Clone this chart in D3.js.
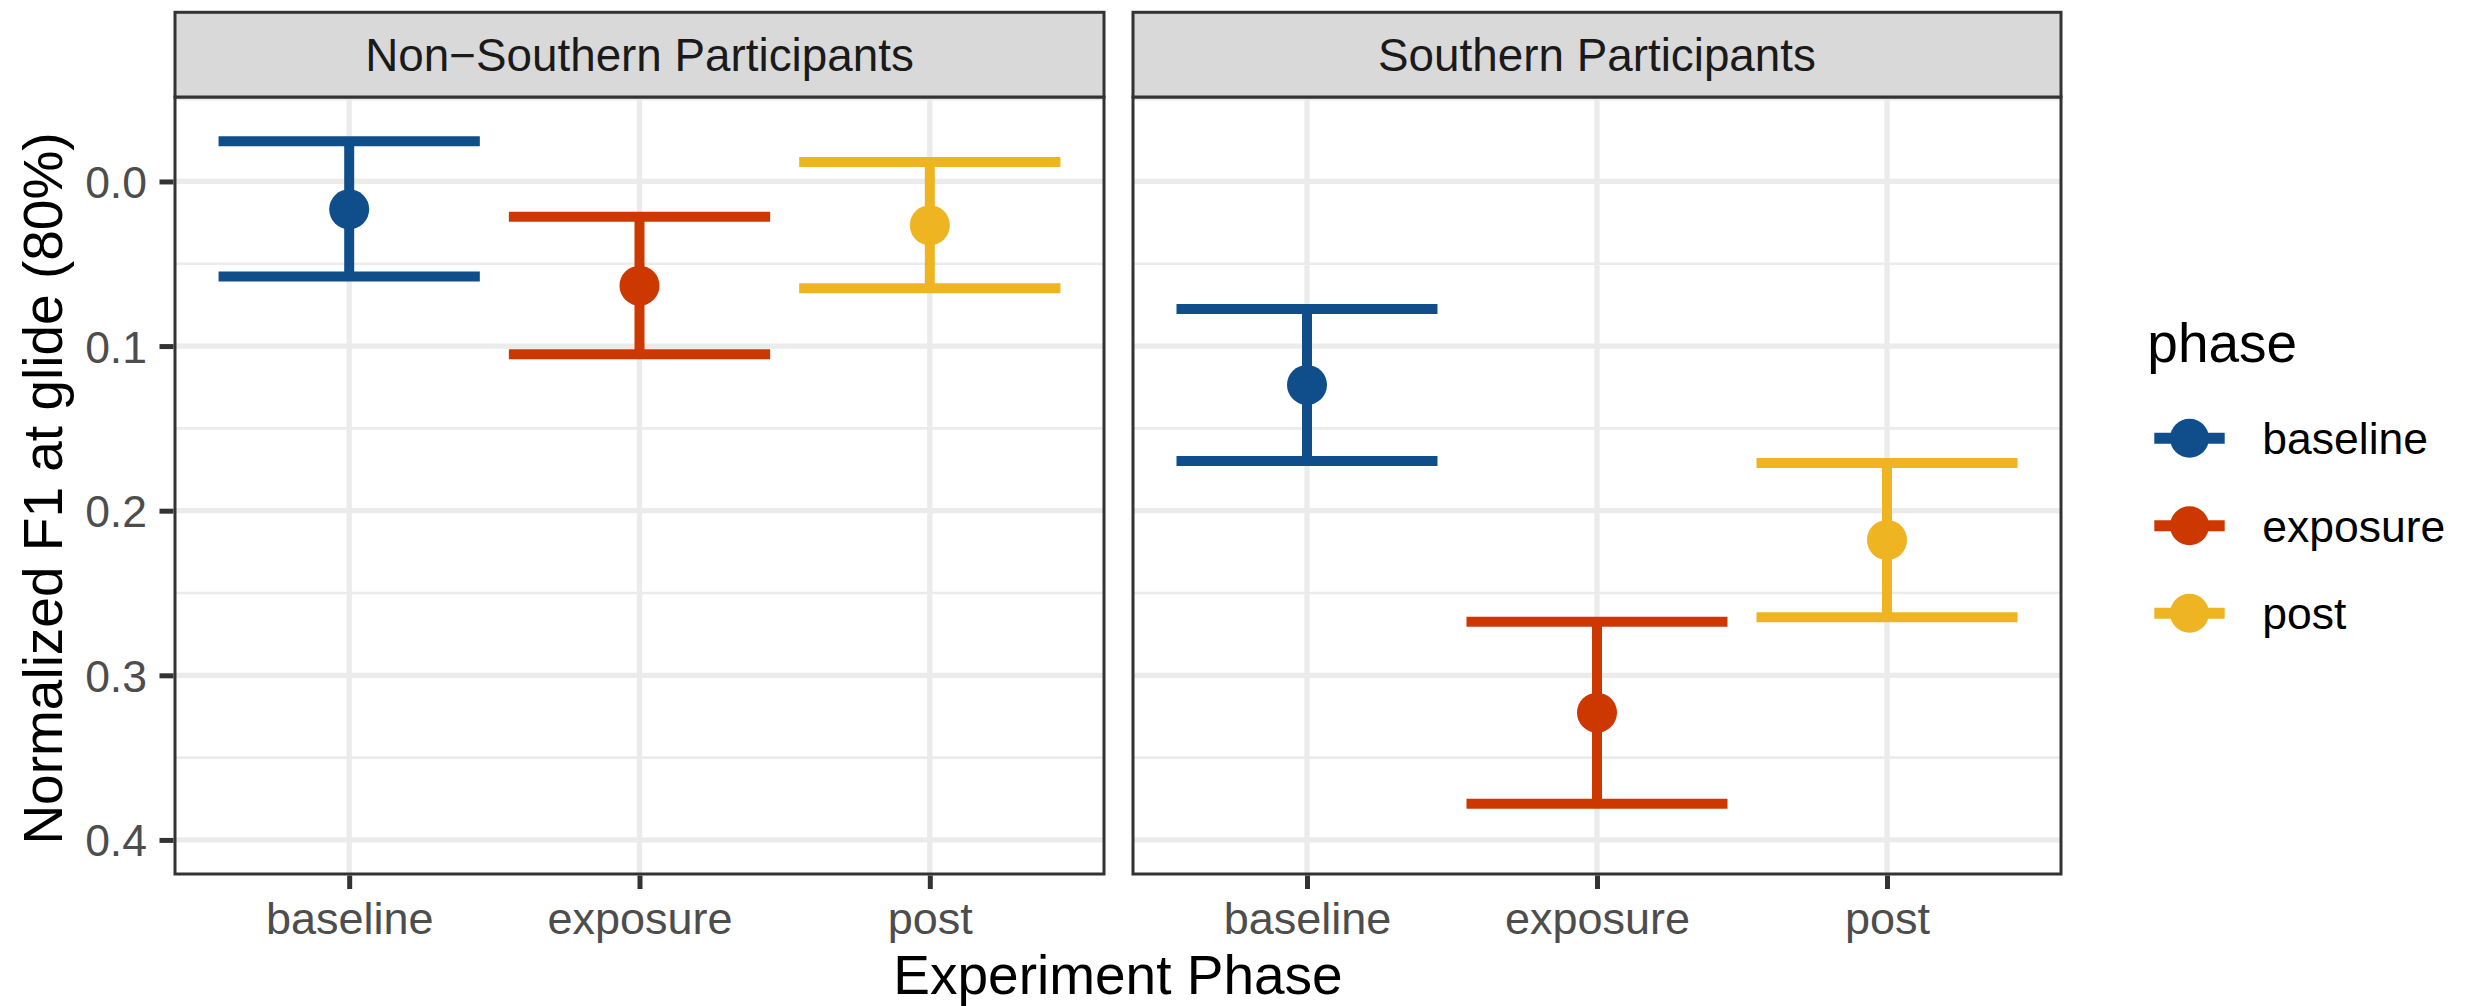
<!DOCTYPE html>
<html>
<head>
<meta charset="utf-8">
<script src="https://cdn.jsdelivr.net/npm/d3@7"></script>
<style>
  html, body { margin: 0; padding: 0; background: #ffffff; }
  svg { display: block; }
  text { font-family: "Liberation Sans", Arial, Helvetica, sans-serif; }
</style>
</head>
<body>
<svg id="chart" width="2476" height="1006"></svg>
<script>
// ---------------- data ----------------
const phases = ["baseline", "exposure", "post"];
const facetNames = ["Non\u2212Southern Participants", "Southern Participants"];
const meanNonSouthern  = [0.0169, 0.0633, 0.0266];
const lowerNonSouthern = [-0.0244, 0.0214, -0.0118];
const upperNonSouthern = [0.0578, 0.1050, 0.0649];
const meanSouthern  = [0.1236, 0.3227, 0.2178];
const lowerSouthern = [0.0775, 0.2674, 0.1710];
const upperSouthern = [0.1698, 0.3780, 0.2648];
const yTicks = [0, 0.1, 0.2, 0.3, 0.4];
const yMinorTicks = [-0.05, 0.05, 0.15, 0.25, 0.35];
const yTickLabels = ["0.0", "0.1", "0.2", "0.3", "0.4"];
const phaseColors = ["#104E8B", "#CD3700", "#EEB422"];
const xTitle = "Experiment Phase";
const yTitle = "Normalized F1 at glide (80%)";
const legendTitle = "phase";

// ---------------- layout ----------------
const svg = d3.select("#chart");
const panelTop = 97, panelBottom = 874;
const stripTop = 12.3;
const panels = [
  { name: facetNames[0], x0: 175, x1: 1104, mean: meanNonSouthern, lo: lowerNonSouthern, hi: upperNonSouthern },
  { name: facetNames[1], x0: 1133, x1: 2061, mean: meanSouthern, lo: lowerSouthern, hi: upperSouthern }
];
const dark = "#333333";
const gridCol = "#EBEBEB";
const color = d3.scaleOrdinal().domain(phases).range(phaseColors);
const y = d3.scaleLinear().domain([-0.0513, 0.4207]).range([panelTop, panelBottom]);

panels.forEach((p, pi) => {
  const x = d3.scalePoint().domain(phases).range([p.x0, p.x1]).padding(0.6);
  const step = x.step();
  const g = svg.append("g");

  // panel background
  g.append("rect").attr("x", p.x0).attr("y", panelTop)
    .attr("width", p.x1 - p.x0).attr("height", panelBottom - panelTop)
    .attr("fill", "#ffffff");

  // minor grid
  g.selectAll(".ymin").data(yMinorTicks.filter(v => v >= y.domain()[0] && v <= y.domain()[1]))
    .enter().append("line")
    .attr("x1", p.x0).attr("x2", p.x1)
    .attr("y1", d => y(d)).attr("y2", d => y(d))
    .attr("stroke", gridCol).attr("stroke-width", 2.7);
  // major grid
  g.selectAll(".ymaj").data(yTicks).enter().append("line")
    .attr("x1", p.x0).attr("x2", p.x1)
    .attr("y1", d => y(d)).attr("y2", d => y(d))
    .attr("stroke", gridCol).attr("stroke-width", 5.3);
  g.selectAll(".xmaj").data(phases).enter().append("line")
    .attr("x1", d => x(d)).attr("x2", d => x(d))
    .attr("y1", panelTop).attr("y2", panelBottom)
    .attr("stroke", gridCol).attr("stroke-width", 5.3);

  // error bars
  const rows = phases.map((ph, i) => ({ ph, m: p.mean[i], lo: p.lo[i], hi: p.hi[i] }));
  const half = step * 0.9 / 2;
  const eb = g.selectAll(".eb").data(rows).enter().append("g");
  eb.append("line")
    .attr("x1", d => x(d.ph)).attr("x2", d => x(d.ph))
    .attr("y1", d => y(d.lo)).attr("y2", d => y(d.hi))
    .attr("stroke", d => color(d.ph)).attr("stroke-width", 10);
  eb.append("line")
    .attr("x1", d => x(d.ph) - half).attr("x2", d => x(d.ph) + half)
    .attr("y1", d => y(d.lo)).attr("y2", d => y(d.lo))
    .attr("stroke", d => color(d.ph)).attr("stroke-width", 10);
  eb.append("line")
    .attr("x1", d => x(d.ph) - half).attr("x2", d => x(d.ph) + half)
    .attr("y1", d => y(d.hi)).attr("y2", d => y(d.hi))
    .attr("stroke", d => color(d.ph)).attr("stroke-width", 10);
  eb.append("circle")
    .attr("cx", d => x(d.ph)).attr("cy", d => y(d.m)).attr("r", 20)
    .attr("fill", d => color(d.ph));

  // panel border
  g.append("rect").attr("x", p.x0).attr("y", panelTop)
    .attr("width", p.x1 - p.x0).attr("height", panelBottom - panelTop)
    .attr("fill", "none").attr("stroke", dark).attr("stroke-width", 3);

  // strip
  g.append("rect").attr("x", p.x0).attr("y", stripTop)
    .attr("width", p.x1 - p.x0).attr("height", panelTop - stripTop)
    .attr("fill", "#D9D9D9").attr("stroke", dark).attr("stroke-width", 3);
  g.append("text").attr("x", (p.x0 + p.x1) / 2).attr("y", 71)
    .attr("text-anchor", "middle").attr("font-size", 45.8).attr("fill", "#1A1A1A")
    .text(p.name);

  // x axis
  const xAxis = d3.axisBottom(x).tickSize(15).tickSizeOuter(0);
  const xg = g.append("g").attr("transform", `translate(0,${panelBottom})`).call(xAxis);
  xg.select(".domain").remove();
  xg.selectAll(".tick line").attr("stroke", dark).attr("stroke-width", 5).attr("y1", 1.5);
  xg.selectAll(".tick text").attr("y", 60).attr("dy", 0)
    .attr("font-size", 45).attr("fill", "#4D4D4D")
    .attr("font-family", "Liberation Sans, Arial, Helvetica, sans-serif");

  // y axis (left panel only)
  if (pi === 0) {
    const yAxis = d3.axisLeft(y).tickValues(yTicks)
      .tickFormat((d, i) => yTickLabels[i]).tickSize(14).tickPadding(14).tickSizeOuter(0);
    const yg = g.append("g").attr("transform", `translate(${p.x0},0)`).call(yAxis);
    yg.select(".domain").remove();
    yg.selectAll(".tick line").attr("stroke", dark).attr("stroke-width", 5).attr("x2", -15.5).attr("x1", -1.5);
    yg.selectAll(".tick text").attr("dy", "0.36em")
      .attr("font-size", 44.5).attr("fill", "#4D4D4D")
      .attr("font-family", "Liberation Sans, Arial, Helvetica, sans-serif");
  }
});

// axis titles
svg.append("text").attr("x", (175 + 2061) / 2).attr("y", 994)
  .attr("text-anchor", "middle").attr("font-size", 55).attr("fill", "#000")
  .text(xTitle);
svg.append("text")
  .attr("transform", `translate(62,${(panelTop + panelBottom) / 2 + 3}) rotate(-90)`)
  .attr("text-anchor", "middle").attr("font-size", 55).attr("fill", "#000")
  .text(yTitle);

// legend
const lg = svg.append("g");
lg.append("text").attr("x", 2147.3).attr("y", 361.7)
  .attr("font-size", 55).attr("fill", "#000").text(legendTitle);
const keyY = d3.scalePoint().domain(phases).range([438.3, 613.3]);
const keys = lg.selectAll(".key").data(phases).enter().append("g")
  .attr("transform", d => `translate(0,${keyY(d)})`);
keys.append("line").attr("x1", 2154.3).attr("x2", 2224.7).attr("y1", 0).attr("y2", 0)
  .attr("stroke", d => color(d)).attr("stroke-width", 11);
keys.append("circle").attr("cx", 2189.5).attr("cy", 0).attr("r", 19.5)
  .attr("fill", d => color(d));
keys.append("text").attr("x", 2262.3).attr("y", 16)
  .attr("font-size", 44.5).attr("fill", "#000").text(d => d);
</script>
</body>
</html>
